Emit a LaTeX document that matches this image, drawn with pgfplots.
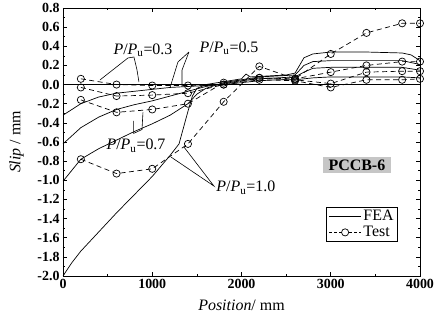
\documentclass[border=0pt]{standalone}
\usepackage{fontspec}
\setmainfont{Liberation Serif}
\usepackage{pgfplots}
\pgfplotsset{compat=1.18}
\begin{document}
\begin{tikzpicture}
\begin{axis}[name=ax, scale only axis, width=357bp, height=268bp,
  xmin=0, xmax=4000, ymin=-2.0, ymax=0.8,
  xtick={0,1000,2000,3000,4000},
  ytick={-2.0,-1.8,-1.6,-1.4,-1.2,-1.0,-0.8,-0.6,-0.4,-0.2,0,0.2,0.4,0.6,0.8},
  minor x tick num=1, minor y tick num=1,
  tick align=inside, tick pos=both,
  major tick length=4bp, minor tick length=2.5bp,
  axis line style={line width=0.7pt},
  every tick/.style={black, line width=0.6pt},
  /pgf/number format/assume math mode=true,
  ticklabel style={font=\fontsize{14}{14}\selectfont\bfseries},
  yticklabel style={/pgf/number format/.cd, fixed, fixed zerofill, precision=1},
  xticklabel style={/pgf/number format/1000 sep={}},
  xlabel={\textit{Position}/ mm}, ylabel={\textit{Slip} / mm},
  label style={font=\fontsize{16}{16}\selectfont},
  xlabel style={at={(axis description cs:0.5,-0.108)}, anchor=center},
  ylabel style={at={(axis description cs:-0.13,0.5)}, anchor=center},
  legend style={at={(0.938,0.257)}, anchor=north east, draw=black, line width=0.6pt,
    font=\fontsize{16}{16}\selectfont, row sep=0pt, inner xsep=2pt, inner ysep=1pt},
  legend cell align=left,
  fea/.style={black, line width=0.7pt, mark=none},
  test/.style={black, line width=0.7pt, dash pattern=on 5bp off 3.5bp, mark=o,
    mark size=3.6bp, mark options={solid, fill=white, line width=0.7pt}},
]
\addlegendimage{legend image code/.code={\draw[black, line width=0.7pt] (0bp,0bp) -- (32bp,0bp);}}
\addlegendentry{FEA}
\addlegendimage{legend image code/.code={\draw[black, line width=0.7pt, dash pattern=on 3bp off 2bp] (0bp,0bp) -- (32bp,0bp);
  \draw[black, line width=0.7pt, fill=white] (16bp,0bp) circle (3.6bp);}}
\addlegendentry{Test}

% zero line
\addplot[black, line width=1.6pt, forget plot] coordinates {(0,0) (4000,0)};

% FEA curves
\addplot[fea, forget plot] coordinates {(0,-2.0)(100,-1.86)(200,-1.74)(400,-1.54)(600,-1.34)(800,-1.15)(1000,-0.96)(1200,-0.74)(1300,-0.62)(1350,-0.45)(1400,-0.28)(1450,-0.12)(1500,-0.04)(1600,0.0)(1800,0.03)(2000,0.06)(2050,0.11)(2100,0.08)(2300,0.09)(2500,0.1)(2600,0.12)(2650,0.2)(2700,0.28)(2800,0.32)(3000,0.34)(3400,0.34)(3800,0.33)(3900,0.31)(4000,0.25)};
\addplot[fea, forget plot] coordinates {(0,-1.01)(200,-0.78)(400,-0.67)(600,-0.58)(800,-0.49)(1000,-0.41)(1200,-0.32)(1400,-0.2)(1500,-0.1)(1600,-0.04)(1800,0.02)(2000,0.05)(2200,0.08)(2400,0.09)(2600,0.1)(2700,0.2)(2800,0.24)(3000,0.25)(3400,0.25)(3800,0.25)(4000,0.21)};
\addplot[fea, forget plot] coordinates {(0,-0.62)(200,-0.45)(400,-0.34)(600,-0.26)(800,-0.21)(1000,-0.17)(1200,-0.12)(1400,-0.07)(1600,-0.02)(1800,0.01)(2000,0.04)(2200,0.06)(2400,0.07)(2600,0.08)(2700,0.13)(2800,0.17)(3000,0.18)(3800,0.18)(4000,0.15)};
\addplot[fea, forget plot] coordinates {(0,-0.32)(200,-0.2)(400,-0.13)(600,-0.09)(800,-0.07)(1000,-0.05)(1200,-0.03)(1400,-0.02)(1600,-0.01)(1800,0.0)(2000,0.02)(2200,0.04)(2400,0.05)(2600,0.05)(2800,0.07)(3000,0.08)(3800,0.08)(4000,0.07)};

% Test data
\addplot[test, forget plot] coordinates {(200,-0.78)(600,-0.93)(1000,-0.88)(1400,-0.62)(1800,-0.18)(2200,0.19)(2600,0.06)(3000,0.32)(3400,0.54)(3800,0.64)(4000,0.64)};
\addplot[test, forget plot] coordinates {(200,-0.16)(600,-0.29)(1000,-0.26)(1400,-0.2)(1800,0.02)(2200,0.07)(2600,0.06)(3000,0.13)(3400,0.2)(3800,0.24)(4000,0.24)};
\addplot[test, forget plot] coordinates {(200,-0.03)(600,-0.12)(1000,-0.11)(1400,-0.09)(1800,0.0)(2200,0.07)(2600,0.05)(3000,0.01)(3400,0.13)(3800,0.14)(4000,0.14)};
\addplot[test, forget plot] coordinates {(200,0.06)(600,0.0)(1000,-0.01)(1400,-0.01)(1800,0.0)(2200,0.05)(2600,0.04)(3000,-0.03)(3400,0.05)(3800,0.05)(4000,0.06)};

% annotations
\draw[line width=0.6pt] (axis cs:414,0.048) -- (axis cs:728,0.278) -- (axis cs:795,0.288) -- (axis cs:829,0.153) -- (axis cs:851,0.027);
\draw[line width=0.6pt] (axis cs:1411,0.34) -- (axis cs:1288,0.236) -- (axis cs:1198,-0.036);
\draw[line width=0.6pt] (axis cs:1411,0.34) -- (axis cs:1333,0.15) -- (axis cs:1333,-0.015);
\draw[line width=0.6pt] (axis cs:792,-0.38) -- (axis cs:792,-0.51) -- (axis cs:885,-0.47) -- (axis cs:896,-0.29);
\draw[line width=0.6pt] (axis cs:1210,-0.757) -- (axis cs:1691,-1.06) -- (axis cs:1355,-0.652);

\node[font=\fontsize{16}{16}\selectfont] at (axis cs:896,0.36) {\textit{P}/\textit{P}\textsubscript{u}=0.3};
\node[font=\fontsize{16}{16}\selectfont] at (axis cs:1860,0.38) {\textit{P}/\textit{P}\textsubscript{u}=0.5};
\node[font=\fontsize{16}{16}\selectfont] at (axis cs:818,-0.64) {\textit{P}/\textit{P}\textsubscript{u}=0.7};
\node[font=\fontsize{16}{16}\selectfont, anchor=west] at (axis cs:1680,-1.08) {\textit{P}/\textit{P}\textsubscript{u}=1.0};
\node[font=\fontsize{16}{16}\selectfont\bfseries, fill=gray!45, inner xsep=6bp, inner ysep=3bp] at (axis cs:3293,-0.84) {PCCB-6};
\end{axis}
\pgfresetboundingbox
\path[use as bounding box] ([xshift=-63bp,yshift=-45bp]ax.south west) rectangle ([xshift=19bp,yshift=8bp]ax.north east);
\end{tikzpicture}
\end{document}
